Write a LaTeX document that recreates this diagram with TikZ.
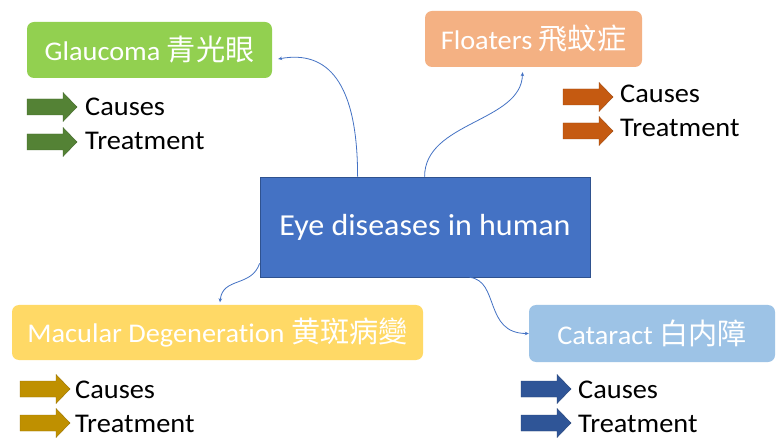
\documentclass[tikz,border=0pt]{standalone}
\usepackage{fontspec}
\setmainfont{Carlito}[Ligatures=NoCommon, FakeStretch=1.05]
\newfontfamily\cjk{Noto Sans CJK TC}[Scale=1.08]
\usetikzlibrary{arrows.meta,calc}
\definecolor{gbox}{HTML}{92D050}
\definecolor{garr}{HTML}{548235}
\definecolor{obox}{HTML}{F4B183}
\definecolor{oarr}{HTML}{C55A11}
\definecolor{ybox}{HTML}{FFD966}
\definecolor{yarr}{HTML}{BF9000}
\definecolor{bbox}{HTML}{9DC3E6}
\definecolor{barr}{HTML}{2F5597}
\definecolor{cbox}{HTML}{4472C4}
\definecolor{cedge}{HTML}{2F528F}
\definecolor{conn}{HTML}{4472C4}
\begin{document}
\begin{tikzpicture}[x=1pt,y=-1pt,
  topic/.style={rounded corners=7pt, inner sep=0pt, text=white,
    font=\fontsize{27}{30}\selectfont},
  lbl/.style={inner sep=0pt, text=black, font=\fontsize{27}{30}\selectfont},
  link/.style={draw=conn, line width=0.8pt, -{Stealth[length=4pt,width=3.5pt]}},
  blockarr/.pic={\filldraw[fill=#1, draw=#1!80!black, line width=0.4pt]
    (0,-8) -- (36,-8) -- (36,-14.5) -- (50,0) -- (36,14.5) -- (36,8) -- (0,8) -- cycle;}
]
\useasboundingbox[fill=white] (0,0) rectangle (779,438);

% central node
\node[fill=cbox, draw=cedge, line width=0.8pt, minimum width=330pt, minimum height=100pt,
  inner sep=0pt, text=white, font=\fontsize{30.5}{34}\selectfont] (eye) at (425,227) {Eye diseases in human};

% topic boxes
\node[topic, fill=gbox, minimum width=245pt, minimum height=56pt] (glau) at (149.5,50) {Glaucoma {\cjk 青光眼}};
\node[topic, fill=obox, minimum width=217pt, minimum height=56pt] (float) at (533.5,39) {Floaters {\cjk 飛蚊症}};
\node[topic, fill=ybox, minimum width=411pt, minimum height=55pt] (mac) at (217.5,332.5) {Macular Degeneration {\cjk 黄斑病變}};
\node[topic, fill=bbox, minimum width=246pt, minimum height=57pt] (cat) at (652,333.5) {Cataract {\cjk 白内障}};

% connectors
\draw[link] ($(eye.north west)+(98,0)$) .. controls ($(eye.north west)+(98,-95)$) and ($(glau.east)+(55,0)$) .. ($(glau.east)+(6,9)$);
\draw[link] ($(eye.north west)+(165,0)$) .. controls ($(eye.north west)+(165,-55)$) and ($(float.south)+(-12,55)$) .. ($(float.south)+(-11,5)$);
\draw[link] ($(eye.south west)+(0,-14)$) .. controls ($(eye.south west)+(-8,10)$) and ($(mac.north)+(5,-28)$) .. ($(mac.north)+(2.5,-2.5)$);
\draw[link] ($(eye.south west)+(210,0)$) .. controls ($(eye.south west)+(240,3)$) and ($(cat.west)+(-45,0)$) .. ($(cat.west)+(0,0)$);

% green list
\pic at (27,107) {blockarr=garr};
\pic at (27,142) {blockarr=garr};
\node[lbl, anchor=base west] (gcause) at (85,116) {Causes};
\node[lbl, anchor=base west] (gtreat) at (85,150) {Treatment};

% orange list
\pic at (563,97) {blockarr=oarr};
\pic at (563,131) {blockarr=oarr};
\node[lbl, anchor=base west] (ocause) at (620,103) {Causes};
\node[lbl, anchor=base west] (otreat) at (620,137) {Treatment};

% gold list
\pic at (20,389) {blockarr=yarr};
\pic at (20,423) {blockarr=yarr};
\node[lbl, anchor=base west] (ycause) at (75,398) {Causes};
\node[lbl, anchor=base west] (ytreat) at (75,432) {Treatment};

% blue list
\pic at (521,389) {blockarr=barr};
\pic at (521,423) {blockarr=barr};
\node[lbl, anchor=base west] (bcause) at (578,398) {Causes};
\node[lbl, anchor=base west] (btreat) at (578,432) {Treatment};
\end{tikzpicture}
\end{document}
